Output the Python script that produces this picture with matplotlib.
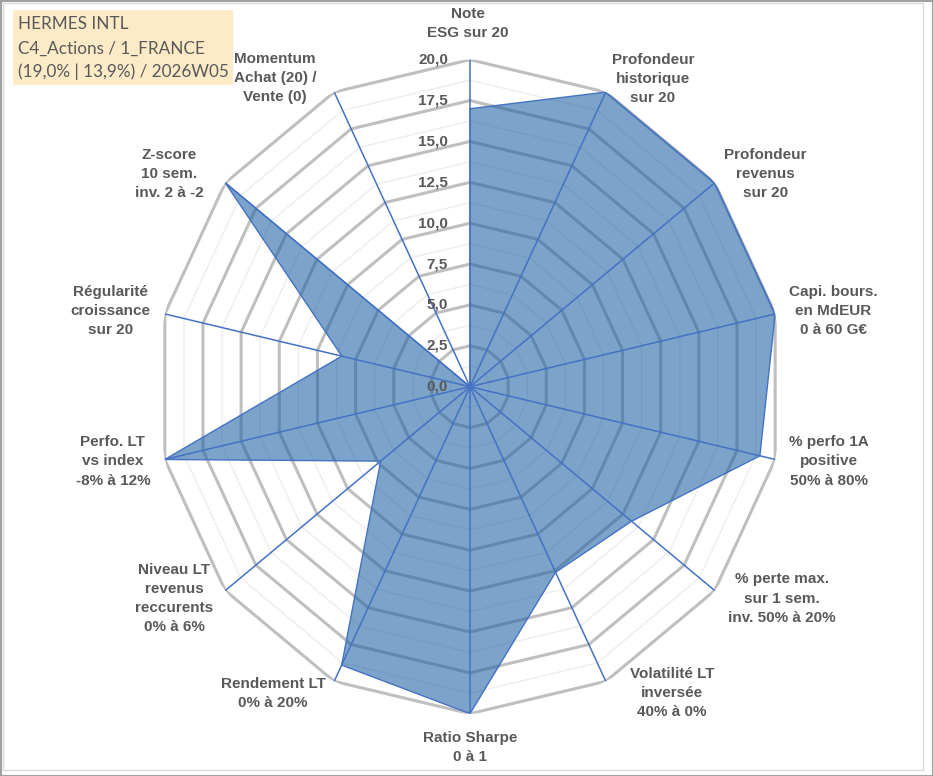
import numpy as np
import matplotlib.pyplot as plt
from matplotlib.patches import Rectangle

# axis labels (clockwise from top)
categories = [
    "Note\nESG sur 20",
    "Profondeur\nhistorique\nsur 20",
    "Profondeur\nrevenus\nsur 20",
    "Capi. bours.\nen MdEUR\n0 à 60 G€",
    "% perfo 1A\npositive\n50% à 80%",
    "% perte max.\nsur 1 sem.\ninv. 50% à 20%",
    "Volatilité LT\ninversée\n40% à 0%",
    "Ratio Sharpe\n0 à 1",
    "Rendement LT\n0% à 20%",
    "Niveau LT\nrevenus\nreccurents\n0% à 6%",
    "Perfo. LT\nvs index\n-8% à 12%",
    "Régularité\ncroissance\nsur 20",
    "Z-score\n10 sem.\ninv. 2 à -2",
    "Momentum\nAchat (20) /\nVente (0)",
]
scores = [17.0, 20.0, 20.0, 20.0, 19.0, 13.2, 12.6, 20.0, 18.9, 7.3, 20.0, 8.4, 20.0, 0.0]
r_ticks = [0, 2.5, 5, 7.5, 10, 12.5, 15, 17.5, 20]
tick_labels = ["0,0", "2,5", "5,0", "7,5", "10,0", "12,5", "15,0", "17,5", "20,0"]
title_lines = ["HERMES INTL", "C4_Actions / 1_FRANCE", "(19,0% | 13,9%) / 2026W05"]

# label offsets in pixels from the end of each spoke
label_off = [(-2, 36), (47, 13), (51, 9), (58, 3), (54, -2), (67, -8), (66, -12),
             (0, -34), (-61, -12), (-51, -8), (-52, -2), (-54, 3), (-56, 9), (-59, 14)]

txt_col = "#595959"
N = len(categories)
theta = np.arange(N) * 2 * np.pi / N
theta_c = np.append(theta, theta[0])

W, H = 933, 776
fig = plt.figure(figsize=(W / 100, H / 100), dpi=100)
cx, cy, rx, ry = 470, 386.7, 313, 327
ax = fig.add_axes([(cx - rx) / W, (H - cy - ry) / H, 2 * rx / W, 2 * ry / H], projection="polar")
ax.set_aspect("auto")
ax.set_theta_zero_location("N")
ax.set_theta_direction(-1)
ax.set_ylim(0, 20)
ax.grid(False)
ax.spines["polar"].set_visible(False)
ax.set_xticks([])
ax.set_yticks([])
ax.patch.set_alpha(0)

# polygon gridlines
for r in np.arange(1.25, 20.01, 2.5):
    ax.plot(theta_c, [r] * (N + 1), color="#EDEDED", lw=1, zorder=1)
for r in r_ticks[1:]:
    ax.plot(theta_c, [r] * (N + 1), color="#BFBFBF", lw=2.2, zorder=2)

# data
vals = np.append(scores, scores[0])
ax.fill(theta_c, vals, color="#1E61A3", alpha=0.58, lw=0, zorder=3)
ax.plot(theta_c, vals, color="#4472C4", lw=1, zorder=4)

# spokes
for t in theta:
    ax.plot([t, t], [0, 20], color="#4472C4", lw=1.1, zorder=5)

# radial tick labels
for r, lab in zip(r_ticks, tick_labels):
    ax.annotate(lab, xy=(0, r), xytext=(-22, 0), textcoords="offset pixels",
                ha="right", va="center", fontsize=11, fontweight="bold",
                color=txt_col, family="Liberation Sans", zorder=6)

# category labels
for t, lab, off in zip(theta, categories, label_off):
    ax.annotate(lab, xy=(t, 20), xytext=off, textcoords="offset pixels",
                ha="center", va="center", multialignment="center",
                fontsize=11, fontweight="bold", color=txt_col,
                family="Liberation Sans", linespacing=1.47, annotation_clip=False)

# title box
fig.patches.append(Rectangle((13 / W, 1 - 85 / H), 220 / W, 75 / H, transform=fig.transFigure,
                             facecolor="#FDEBC8", edgecolor="none", zorder=0))
for i, line in enumerate(title_lines):
    fig.text(18 / W, 1 - [24, 49, 72][i] / H, line, ha="left", va="center",
             fontsize=12.3, color=txt_col, family="Lato")

# chart borders
fig.patches.append(Rectangle((3 / W, 6 / H), 920 / W, 767 / H, transform=fig.transFigure,
                             fill=False, edgecolor="#D9D9D9", lw=1))
fig.patches.append(Rectangle((0.5 / W, 0.5 / H), (W - 1) / W, (H - 1) / H, transform=fig.transFigure,
                             fill=False, edgecolor="#A0A0A0", lw=1.5))

fig.savefig("out.png", dpi=100)
